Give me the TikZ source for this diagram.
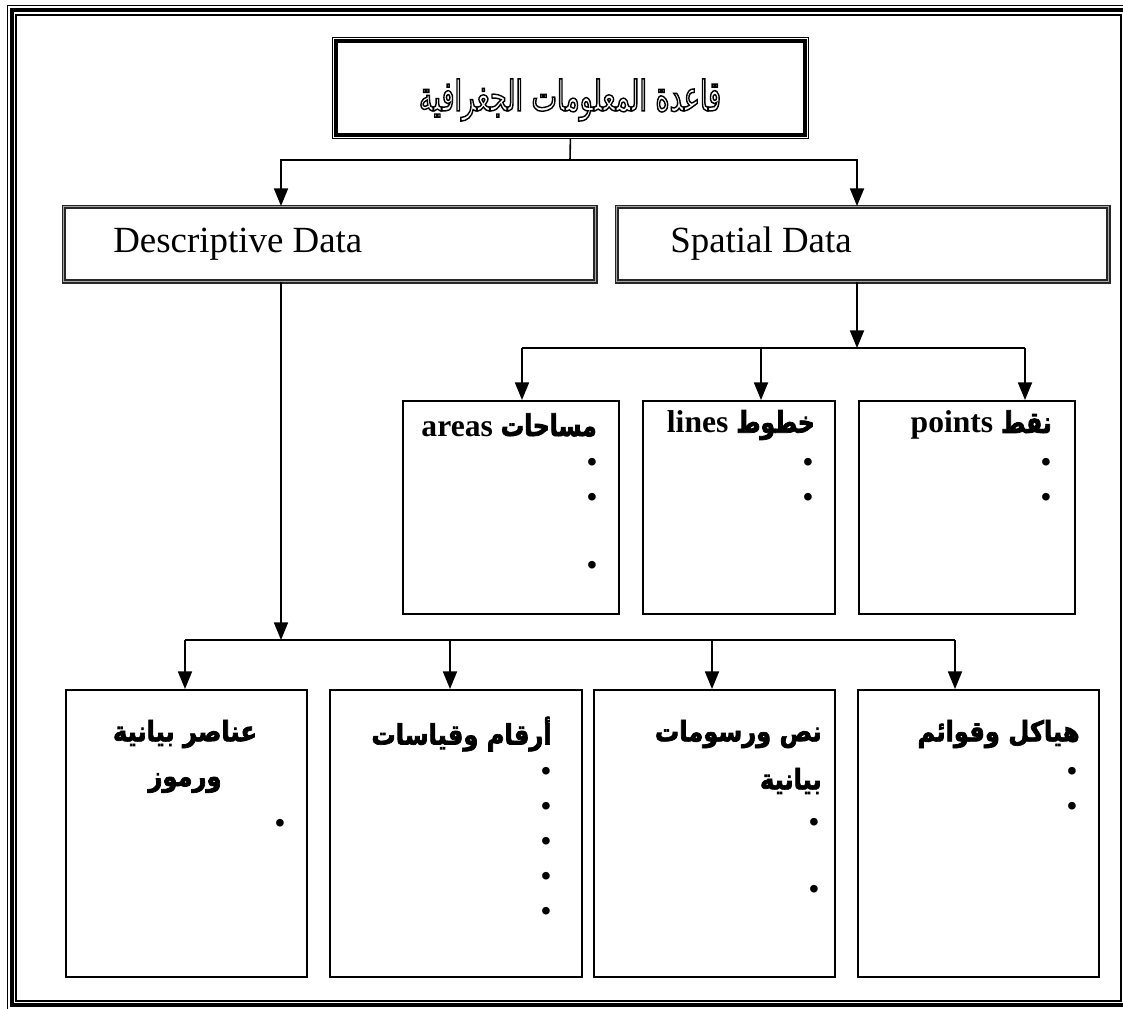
\documentclass[tikz,border=0pt]{standalone}
\usepackage{fontspec}
\setmainfont{Liberation Serif}
\newfontfamily\titlefont[Script=Arabic,FakeStretch=0.64]{DejaVu Sans}
\newfontfamily\arabicbf[Script=Arabic,FakeBold=2.5,FakeStretch=0.86]{DejaVu Sans}
\newfontfamily\arabicmid[Script=Arabic,FakeBold=2.5,FakeStretch=0.78]{DejaVu Sans}
\TeXXeTstate=1
\usetikzlibrary{arrows.meta}
\newcommand{\artxt}[1]{{\arabicbf\fontsize{16}{19}\selectfont\beginR #1\endR}}
\newcommand{\armid}[1]{{\arabicmid\fontsize{17}{20}\selectfont\beginR #1\endR}}

\begin{document}
\begin{tikzpicture}[x=0.02cm,y=-0.02cm,
    line/.style={line width=0.9pt},
    arr/.style={line,-{Triangle[length=10pt,width=8pt]}},
    plainbox/.style={draw,line width=0.9pt,anchor=north west,inner sep=0pt},
    dblbox/.style={draw=black!85,double=black!35,double distance=1pt,line width=0.7pt,anchor=north west,inner sep=0pt},
    lbl/.style={font=\fontsize{18}{21}\selectfont\bfseries,anchor=east,inner sep=0pt},
    blt/.style={font=\fontsize{16}{16}\selectfont\bfseries,inner sep=0pt}]
    \useasboundingbox (0,0) rectangle (1123,1008);
    \clip (0,0) rectangle (1123,1008);

    % page border
    \draw[line width=0.5pt] (7,5) rectangle (1131,1011);
    \draw[line width=2.6pt] (12,10) rectangle (1126,1005);
    \draw[line width=0.6pt] (16,15) rectangle (1121,1001);

    % title
    \node[plainbox,line width=0.5pt,minimum width=9.52cm,minimum height=2.02cm] (title) at (332,37) {};
    \draw[line width=2pt] ([shift={(4,4)}]title.north west) rectangle ([shift={(-4,-4)}]title.south east);
    \node[font=\titlefont\fontsize{24}{28}\selectfont,inner sep=0pt] (titletxt) at (570,100)
        {\special{pdf:literal direct 1 Tr 0.8 w}\beginR قاعدة المعلومات الجغرافية\endR\special{pdf:literal direct 0 Tr}};

    % second level
    \node[dblbox,minimum width=10.64cm,minimum height=1.5cm] (desc) at (63,206) {};
    \node[font=\fontsize{21}{24}\selectfont,anchor=base west,inner sep=0pt] (desctxt) at (113,252) {Descriptive Data};
    \node[dblbox,minimum width=9.84cm,minimum height=1.5cm] (spat) at (616,206) {};
    \node[font=\fontsize{21}{24}\selectfont,anchor=base west,inner sep=0pt] (spattxt) at (670,252) {Spatial Data};

    \coordinate (j1) at (570,160);
    \coordinate (descin) at (281,206);
    \coordinate (spatin) at (857,206);
    \draw[line] (title.south) -- (j1);
    \draw[arr] (j1) -| (descin);
    \draw[arr] (j1) -| (spatin);

    % spatial data types
    \node[plainbox,minimum width=4.32cm,minimum height=4.26cm] (areas) at (402,400) {};
    \node[plainbox,minimum width=3.84cm,minimum height=4.26cm] (lines) at (642,400) {};
    \node[plainbox,minimum width=4.32cm,minimum height=4.26cm] (points) at (858,400) {};

    \coordinate (j2) at (857,348);
    \coordinate (areasin) at (522,400);
    \coordinate (linesin) at (761,400);
    \coordinate (pointsin) at (1025,400);
    \draw[arr] (spatin |- spat.south) -- (j2);
    \draw[line] (areasin |- j2) -- (pointsin |- j2);
    \foreach \t in {areasin,linesin,pointsin}
        \draw[arr] (\t |- j2) -- (\t);

    \node[lbl] (areastxt) at (597,425) {areas \armid{مساحات}};
    \node[lbl] (linestxt) at (815,425) {lines \armid{خطوط}};
    \node[lbl] (pointstxt) at (1052,425) {points \armid{نقط}};
    \foreach \y in {465,500,568}
        \node[blt] (areasb\y) at (592,\y) {\textbullet};
    \foreach \y in {465,500} {
        \node[blt] (linesb\y) at (808,\y) {\textbullet};
        \node[blt] (pointsb\y) at (1046,\y) {\textbullet};
    }

    % descriptive data types
    \node[plainbox,minimum width=4.82cm,minimum height=5.74cm] (symbols) at (65,689) {};
    \node[plainbox,minimum width=5.04cm,minimum height=5.74cm] (numbers) at (329,689) {};
    \node[plainbox,minimum width=4.82cm,minimum height=5.74cm] (texts) at (593,689) {};
    \node[plainbox,minimum width=4.82cm,minimum height=5.74cm] (tables) at (857,689) {};

    \coordinate (j3) at (281,640);
    \coordinate (symbolsin) at (185,689);
    \coordinate (numbersin) at (450,689);
    \coordinate (textsin) at (712,689);
    \coordinate (tablesin) at (955,689);
    \draw[arr] (descin |- desc.south) -- (j3);
    \draw[line] (symbolsin |- j3) -- (tablesin |- j3);
    \foreach \t in {symbolsin,numbersin,textsin,tablesin}
        \draw[arr] (\t |- j3) -- (\t);

    \node[lbl,anchor=center] (symbolstxt) at (185,734) {\artxt{عناصر بيانية}};
    \node[lbl,anchor=center] (symbolstxt2) at (185,783) {\artxt{ورموز}};
    \node[blt] (symbolsb) at (280,826) {\textbullet};
    \node[lbl] (numberstxt) at (552,734) {\artxt{أرقام وقياسات}};
    \foreach \y in {774,809,844,879,914}
        \node[blt] (numbersb\y) at (546,\y) {\textbullet};
    \node[lbl] (textstxt) at (822,734) {\artxt{نص ورسومات}};
    \node[lbl] (textstxt2) at (822,781) {\artxt{بيانية}};
    \foreach \y in {825,892}
        \node[blt] (textsb\y) at (814,\y) {\textbullet};
    \node[lbl] (tablestxt) at (1080,734) {\artxt{هياكل وقوائم}};
    \foreach \y in {774,809}
        \node[blt] (tablesb\y) at (1072,\y) {\textbullet};
\end{tikzpicture}
\end{document}
